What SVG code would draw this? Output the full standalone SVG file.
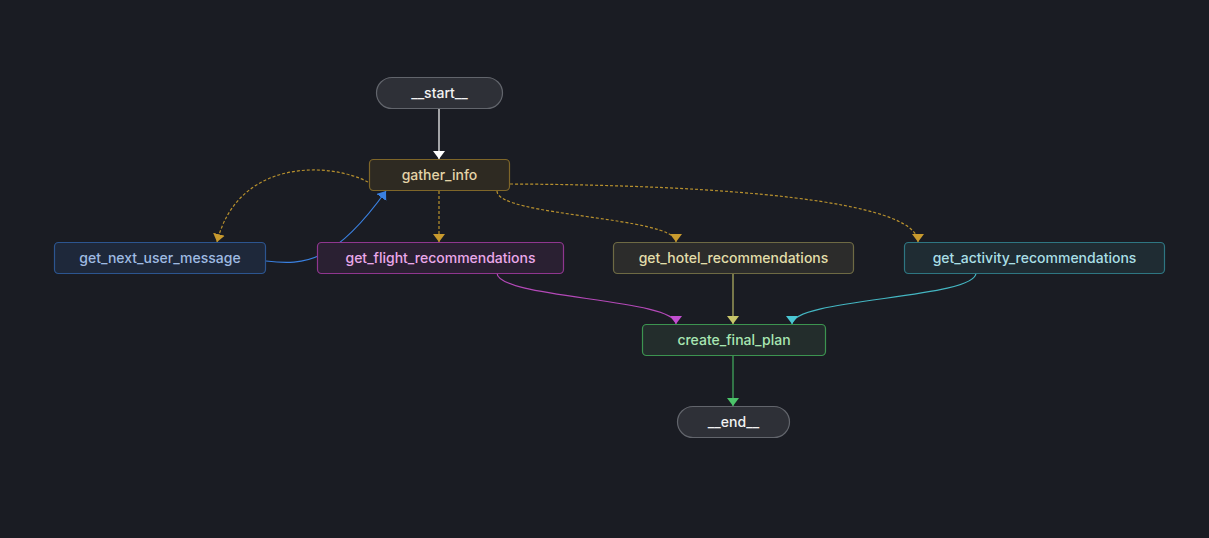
<svg xmlns="http://www.w3.org/2000/svg" width="1209" height="538" viewBox="0 0 1209 538">
<style>
text{font-family:Inter,"Noto Sans","Liberation Sans",sans-serif;font-size:14px;font-weight:500;text-anchor:middle;dominant-baseline:central}
.e{fill:none;stroke-width:1.2}
.d{stroke-dasharray:3 2}
.n rect{stroke-width:1.2}
</style>
<defs>
<marker id="aw" viewBox="0 0 8 12" refX="8" refY="6" markerWidth="8" markerHeight="12" markerUnits="userSpaceOnUse" orient="auto"><path d="M0,0 L8,6 L0,12 z" fill="#ffffff"/></marker>
<marker id="ag" viewBox="0 0 8 12" refX="8" refY="6" markerWidth="8" markerHeight="12" markerUnits="userSpaceOnUse" orient="auto"><path d="M0,0 L8,6 L0,12 z" fill="#c89a2e"/></marker>
<marker id="ab" viewBox="0 0 8 12" refX="8" refY="6" markerWidth="8" markerHeight="12" markerUnits="userSpaceOnUse" orient="auto"><path d="M0,0 L8,6 L0,12 z" fill="#3a80e0"/></marker>
<marker id="ap" viewBox="0 0 8 12" refX="8" refY="6" markerWidth="8" markerHeight="12" markerUnits="userSpaceOnUse" orient="auto"><path d="M0,0 L8,6 L0,12 z" fill="#c24fd0"/></marker>
<marker id="ay" viewBox="0 0 8 12" refX="8" refY="6" markerWidth="8" markerHeight="12" markerUnits="userSpaceOnUse" orient="auto"><path d="M0,0 L8,6 L0,12 z" fill="#c8c66a"/></marker>
<marker id="ac" viewBox="0 0 8 12" refX="8" refY="6" markerWidth="8" markerHeight="12" markerUnits="userSpaceOnUse" orient="auto"><path d="M0,0 L8,6 L0,12 z" fill="#4ac6d2"/></marker>
<marker id="an" viewBox="0 0 8 12" refX="8" refY="6" markerWidth="8" markerHeight="12" markerUnits="userSpaceOnUse" orient="auto"><path d="M0,0 L8,6 L0,12 z" fill="#4cc46a"/></marker>
</defs>
<rect width="1209" height="538" fill="#1a1c23"/>
<g id="connectors">
<path class="e" d="M439,108 L439,159" stroke="#ffffff" marker-end="url(#aw)"/>
<path class="e d" d="M439,191 L439,242" stroke="#b8912e" marker-end="url(#ag)"/>
<path class="e d" d="M368,182 C330,162 238,158 217,242" stroke="#b8912e" marker-end="url(#ag)"/>
<path class="e d" d="M497,191 C497,216.5 676,216.5 676,242" stroke="#b8912e" marker-end="url(#ag)"/>
<path class="e d" d="M510,184 C720,185 918,200 918,242" stroke="#b8912e" marker-end="url(#ag)"/>
<path class="e" d="M266,261 C305,266 335,262 386,191" stroke="#3a80e0" marker-end="url(#ab)"/>
<path class="e" d="M497,273 C497,298.5 676,298.5 676,324" stroke="#b449b8" marker-end="url(#ap)"/>
<path class="e" d="M733,273 L733,324" stroke="#b8b664" marker-end="url(#ay)"/>
<path class="e" d="M976,273 C976,298.5 792,298.5 792,324" stroke="#44b6c2" marker-end="url(#ac)"/>
<path class="e" d="M733,356 L733,406" stroke="#44b060" marker-end="url(#an)"/>
</g>
<g id="start" class="n"><rect x="376.5" y="77.5" width="126" height="31" rx="15.5" fill="#2e3037" stroke="#62656c"/><text x="439.5" y="92.5" fill="#f2f2f2" font-weight="600">__start__</text></g>
<g id="gather_info" class="n"><rect x="369.5" y="159.5" width="140" height="31" rx="4" fill="#2e2a22" stroke="#7f6629"/><text x="439.5" y="174.5" fill="#e4d4a8">gather_info</text></g>
<g id="get_next_user_message" class="n"><rect x="54.5" y="242.5" width="211" height="31" rx="4" fill="#1e283a" stroke="#2c5590"/><text x="160" y="257.5" fill="#9fbbe2">get_next_user_message</text></g>
<g id="get_flight_recommendations" class="n"><rect x="317.5" y="242.5" width="246" height="31" rx="4" fill="#2a2032" stroke="#8f368f"/><text x="440.5" y="257.5" fill="#eaa8ea">get_flight_recommendations</text></g>
<g id="get_hotel_recommendations" class="n"><rect x="613.5" y="242.5" width="240" height="31" rx="4" fill="#2c2c2b" stroke="#6e6a44"/><text x="733.5" y="257.5" fill="#e2deaa">get_hotel_recommendations</text></g>
<g id="get_activity_recommendations" class="n"><rect x="904.5" y="242.5" width="260" height="31" rx="4" fill="#1f2c33" stroke="#2e7682"/><text x="1034.5" y="257.5" fill="#a9dfe6">get_activity_recommendations</text></g>
<g id="create_final_plan" class="n"><rect x="642.5" y="324.5" width="183" height="31" rx="4" fill="#232d2c" stroke="#3c9450"/><text x="734" y="339.5" fill="#a8e6b2">create_final_plan</text></g>
<g id="end" class="n"><rect x="677.5" y="406.5" width="112" height="31" rx="15.5" fill="#2e3037" stroke="#62656c"/><text x="733.5" y="421.5" fill="#f2f2f2" font-weight="600">__end__</text></g>
</svg>
